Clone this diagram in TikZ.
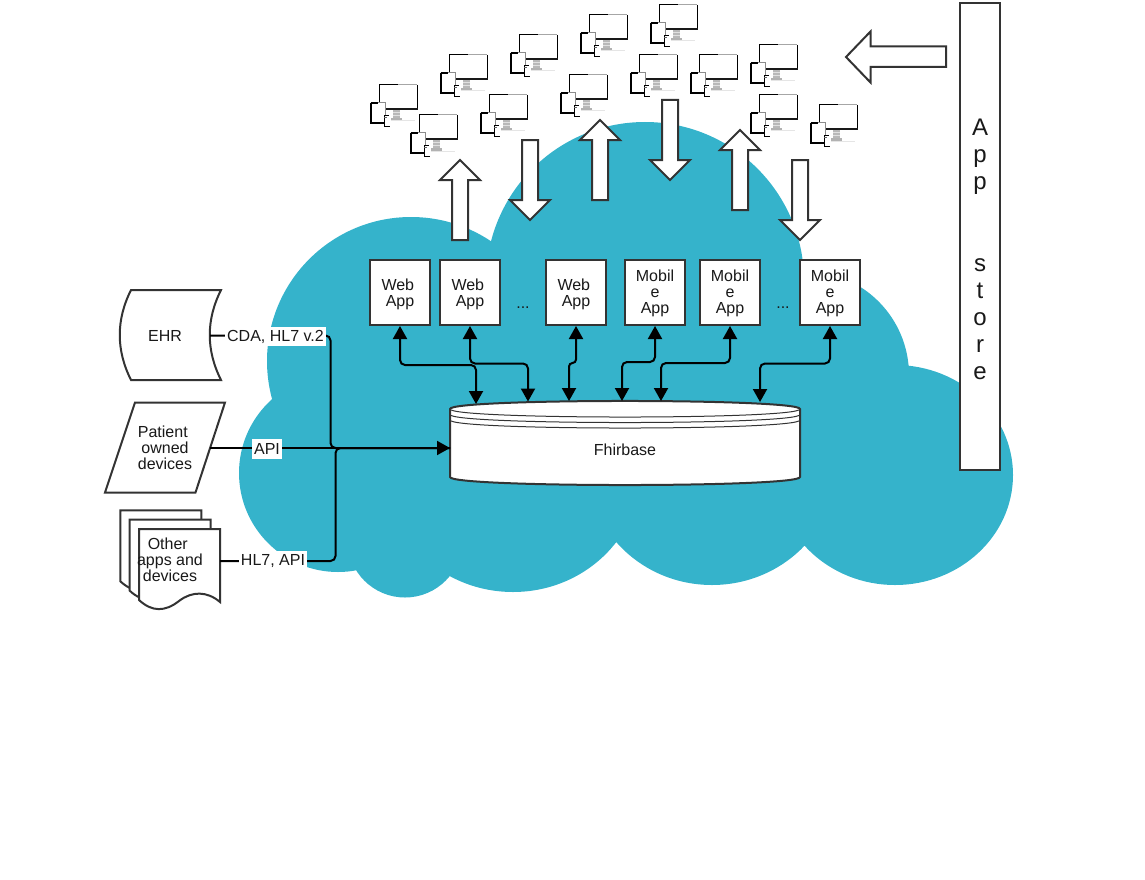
\documentclass[tikz,border=0pt]{standalone}
\usepackage{fontspec}
\setmainfont{Liberation Sans}
\usetikzlibrary{arrows.meta}
\definecolor{cloudblue}{HTML}{35B3CB}
\definecolor{ink}{HTML}{333333}
\tikzset{
  outline/.style={draw=ink,line width=2pt,fill=white,line join=miter},
  thinline/.style={draw=ink,line width=1pt},
  txt/.style={font=\fontsize{16}{16}\selectfont,align=center,inner sep=0pt,text=black!90},
  appbox/.style={txt,draw=ink,fill=white,line width=2pt,minimum width=60pt,minimum height=65pt},
  tag/.style={txt,fill=white,inner xsep=2pt,inner ysep=0pt,minimum height=19.5pt},
  wire/.style={draw=black,line width=2pt,rounded corners=5pt},
  tip/.style={-{Triangle[length=13pt,width=14pt]}},
  bothtips/.style={{Triangle[length=13pt,width=14pt]}-{Triangle[length=13pt,width=14pt]}},
  device/.pic={
    % monitor
    \fill[white] (0,0) rectangle (38,24.5);
    \draw[black,line width=1pt] (0,24) -- (0,0) -- (19,0);
    \draw[black!35,line width=1pt] (19,0) -- (38,0);
    \draw[black,line width=1pt] (38,0) -- (38,24);
    \draw[black!90,line width=2.2pt] (6,24) -- (38.5,24);
    % stand
    \fill[black!28] (14,25) rectangle (21,33);
    \fill[black!12] (14,27) rectangle (21,28);
    \fill[black!12] (14,30) rectangle (21,31);
    \fill[black!30] (12,33) rectangle (23,35.5);
    \fill[black!10] (8,35.5) rectangle (36,36.5);
    % tablet
    \fill[white] (-8,18) rectangle (6,38);
    \draw[black,line width=2.6pt] (6,38) -- (-8,38) -- (-8,18.5);
    \draw[black,line width=1.4pt] (-8.5,18) -- (-1,18);
    \draw[black!45,line width=1pt] (-1,18) -- (6,18) -- (6,30);
    % phone
    \fill[white] (5,30.5) rectangle (12,41);
    \draw[black,line width=.9pt] (5,30.5) -- (5,41) -- (11,41);
    \draw[black,line width=.9pt] (5,30.5) -- (10,30.5);
    \draw[black!60,line width=.9pt] (5,32.5) -- (7.5,32.5);
  }
}
\newcommand{\blockup}[4]{% name, x, tip y, bottom y
  \draw[outline] (#2,#3) -- (#2+20,#3+20) -- (#2+8,#3+20) -- (#2+8,#4) -- (#2-8,#4) -- (#2-8,#3+20) -- (#2-20,#3+20) -- cycle;}
\newcommand{\blockdown}[4]{% name, x, tip y, top y
  \draw[outline] (#2,#3) -- (#2+20,#3-20) -- (#2+8,#3-20) -- (#2+8,#4) -- (#2-8,#4) -- (#2-8,#3-20) -- (#2-20,#3-20) -- cycle;}
\begin{document}
\begin{tikzpicture}[x=1pt,y=-1pt]
\useasboundingbox (0,0) rectangle (1145,880);
% cloud: union of lobes
\fill[cloudblue]
  (411,361) circle [radius=144]
  (645,281) circle [radius=159]
  (805,375) circle [radius=104]
  (895,475) ellipse [x radius=118,y radius=110]
  (712,465) ellipse [x radius=125,y radius=120]
  (513,470) ellipse [x radius=128,y radius=122]
  (405,540) circle [radius=57.5]
  (338,473) circle [radius=99];
\fill[cloudblue] (300,450) -- (410,300) -- (645,200) -- (805,350) -- (900,450) -- (800,520) -- (620,520) -- (500,560) -- (350,540) -- cycle;
% devices
\foreach \px/\py in {379/85,419/115,449/55,489/95,519/35,569/75,589/15,639/55,659/5,699/55,759/45,759/95,819/105}
  \pic at (\px,\py) {device};
% block arrows
\blockup{u1}{460}{160}{240}
\blockup{u2}{600}{120}{200}
\blockup{u3}{740}{130}{210}
\blockdown{d1}{530}{220}{140}
\blockdown{d2}{670}{180}{100}
\blockdown{d3}{800}{240}{160}
\draw[outline] (846,57) -- (870.5,31.5) -- (870.5,46.5) -- (946,46.5) -- (946,67) -- (870.5,67) -- (870.5,82.5) -- cycle;
% app store
\node[txt,draw=ink,fill=white,line width=2pt,minimum width=40pt,minimum height=467pt,font=\fontsize{24}{27.2}\selectfont] (store) at (980,236.5)
  {\mbox{}\\[15pt]A\\p\\p\\\mbox{}\\\mbox{}\\s\\t\\o\\r\\e};
% apps
\node[appbox] (w1) at (400,292.5) {\rule{0pt}{15.6pt}Web\hspace*{4.4pt}\\App};
\node[appbox] (w2) at (470,292.5) {\rule{0pt}{15.6pt}Web\hspace*{4.4pt}\\App};
\node[appbox] (w3) at (576,292.5) {\rule{0pt}{15.6pt}Web\hspace*{4.4pt}\\App};
\node[appbox] (m1) at (655,292.5) {\rule{0pt}{13.6pt}Mobil\\e\\App};
\node[appbox] (m2) at (730,292.5) {\rule{0pt}{13.6pt}Mobil\\e\\App};
\node[appbox] (m3) at (830,292.5) {\rule{0pt}{13.6pt}Mobil\\e\\App};
\node[txt,anchor=base] (dots1) at (523,308) {...};
\node[txt,anchor=base] (dots2) at (783,308) {...};
% database
\draw[outline] (450,409) .. controls (450,398.3) and (800,398.3) .. (800,409) -- (800,477) .. controls (800,487.7) and (450,487.7) .. (450,477) -- cycle;
\draw[thinline] (450,409) .. controls (450,419.7) and (800,419.7) .. (800,409);
\draw[thinline] (450,414.5) .. controls (450,425.2) and (800,425.2) .. (800,414.5);
\draw[thinline] (450,420) .. controls (450,430.7) and (800,430.7) .. (800,420);
\node[txt] (db) at (625,449.5) {Fhirbase};
\coordinate (dbL) at (450,448);
\coordinate (p1) at (476,404);
\coordinate (p2) at (528,401.5);
\coordinate (p3) at (569,401);
\coordinate (p4) at (622,401);
\coordinate (p5) at (661,401);
\coordinate (p6) at (760,402);
% app links
\draw[wire,bothtips] (w1.south) -- (400,365) -- (476,365) -- (p1);
\draw[wire,bothtips] (w2.south) -- (470,363.5) -- (528,363.5) -- (p2);
\draw[wire,bothtips,rounded corners=3.5pt] (w3.south) -- (576,363) -- (569,363) -- (p3);
\draw[wire,bothtips] (m1.south) -- (655,362) -- (622,362) -- (p4);
\draw[wire,bothtips] (m2.south) -- (730,363) -- (661,363) -- (p5);
\draw[wire,bothtips] (m3.south) -- (830,363.5) -- (760,363.5) -- (p6);
% source shapes
\draw[outline] (131,290) -- (221,290) .. controls (206,320) and (206,350) .. (221,380) -- (131,380) .. controls (116,350) and (116,320) .. (131,290) -- cycle;
\node[txt] (ehr) at (165,336) {EHR};
\coordinate (ehrR) at (210,335.5);
\draw[outline] (135,402.5) -- (225,402.5) -- (195.5,492.5) -- (105,492.5) -- cycle;
\node[txt] (patient) at (165,447.5) {Patient\hspace*{4.4pt}\\owned\hspace*{4.4pt}\\devices};
\coordinate (patR) at (210,448);
\foreach \dd in {18.7,9.35,0}
  \draw[outline] (139-\dd,529-\dd) -- (220-\dd,529-\dd) -- (220-\dd,602-\dd) .. controls (207-\dd,591-\dd) and (192-\dd,591-\dd) .. (179-\dd,601-\dd) .. controls (165-\dd,612-\dd) and (152-\dd,612-\dd) .. (139-\dd,600-\dd) -- cycle;
\node[txt] (other) at (170,559.5) {Other\hspace*{4.4pt}\\apps and\hspace*{9pt}\\devices};
\coordinate (othR) at (220,561);
% inputs
\draw[wire] (ehrR) -- (330.5,335.5) -- (330.5,448) -- (dbL);
\draw[wire] (othR) -- (335.5,561) -- (335.5,448) -- (dbL);
\draw[wire,tip] (patR) -- (dbL);
\node[tag] (cda) at (275.5,336.5) {CDA, HL7 v.2};
\node[tag] (api) at (267,449) {API};
\node[tag] (hl7) at (273,561) {HL7, API};
\end{tikzpicture}
\end{document}
